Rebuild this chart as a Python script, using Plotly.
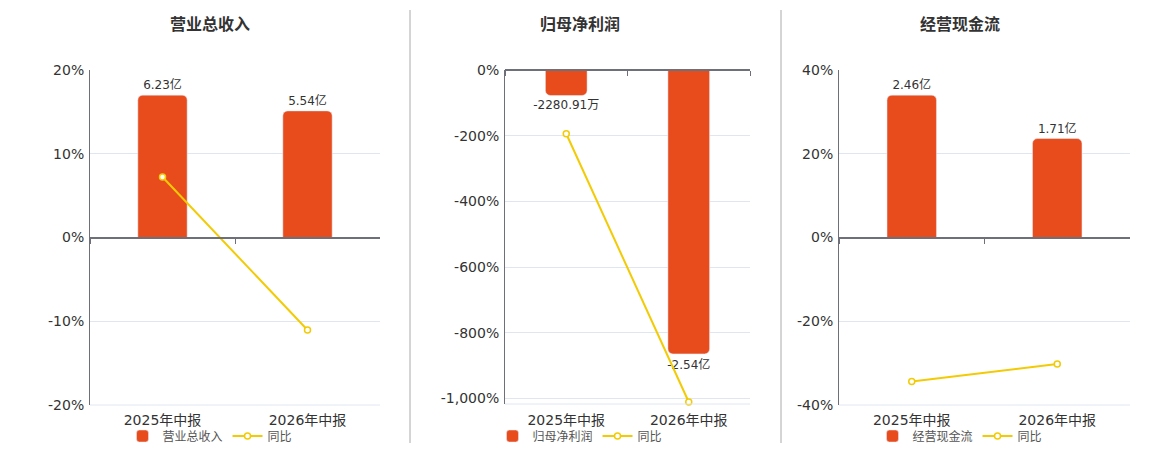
import plotly.graph_objects as go

# --- data ---
periods = ["2025年中报", "2026年中报"]

titles = ["营业总收入", "归母净利润", "经营现金流"]

# bar values (亿元) and their labels
bar_values = [
    [6.23, 5.54],
    [-0.228091, -2.54],
    [2.46, 1.71],
]
bar_labels = [
    ["6.23亿", "5.54亿"],
    ["-2280.91万", "-2.54亿"],
    ["2.46亿", "1.71亿"],
]

# 同比 (%)
yoy_values = [
    [7.22, -11.04],
    [-194.0, -1011.0],
    [-34.4, -30.2],
]

# percent axis ranges and tick labels
yoy_ranges = [[-20, 20], [-1017, 0], [-40, 40]]
yoy_tickvals = [
    [-20, -10, 0, 10, 20],
    [-1000, -800, -600, -400, -200, 0],
    [-40, -20, 0, 20, 40],
]
yoy_ticktext = [
    ["-20%", "-10%", "0%", "10%", "20%"],
    ["-1,000%", "-800%", "-600%", "-400%", "-200%", "0%"],
    ["-40%", "-20%", "0%", "20%", "40%"],
]

# --- style ---
W, H = 1160, 450
PAGE = 8  # the page's own body margin
BAR_COLOR = "#E84C1D"
LINE_COLOR = "#F2CB05"
AXIS_COLOR = "#6E7079"
GRID_COLOR = "#E0E6F1"
TEXT_COLOR = "#333333"
FONT = "DejaVu Sans, Noto Sans CJK SC, sans-serif"
TITLE_FONT = "Noto Sans CJK SC, sans-serif"

# plot areas in screen pixels (left, right, top, bottom)
areas = [(90, 380, 70, 405), (505, 750, 70, 404), (839, 1130, 70, 405)]
centers = [210, 580, 960]
separators = [410, 781]


def px_x(v):
    return (v - PAGE) / W


def px_y(v):
    return 1 - (v - PAGE) / H


fig = go.Figure()
layout = {}

for i in range(3):
    n = i + 1
    xa = "x" if n == 1 else f"x{n}"
    ya_bar = "y" if n == 1 else f"y{2 * n - 1}"
    ya_line = f"y{2 * n}"
    xkey = "xaxis" if n == 1 else f"xaxis{n}"
    ybkey = "yaxis" if n == 1 else f"yaxis{2 * n - 1}"
    ylkey = f"yaxis{2 * n}"
    lkey = "legend" if n == 1 else f"legend{n}"

    left, right, top, bottom = areas[i]
    xdom = [px_x(left), px_x(right)]
    ydom = [px_y(bottom), px_y(top)]

    lo, hi = yoy_ranges[i]
    frac0 = (0 - lo) / (hi - lo)
    zero_pos = ydom[0] + frac0 * (ydom[1] - ydom[0])
    zero_px = bottom - frac0 * (bottom - top)

    # bar axis scaled so that the largest bar fills 85% of its side
    vmax = max(abs(v) for v in bar_values[i]) / 0.85
    if lo < 0 < hi:
        bar_range = [-vmax, vmax]
    else:
        bar_range = [-vmax, 0]

    fig.add_trace(go.Bar(
        x=periods, y=bar_values[i],
        xaxis=xa, yaxis=ya_bar,
        name=titles[i],
        marker=dict(color=BAR_COLOR, cornerradius=5),
        width=0.34,
        text=bar_labels[i],
        textposition="outside",
        constraintext="none",
        textfont=dict(size=12, color=TEXT_COLOR, family=FONT),
        cliponaxis=False,
        hoverinfo="skip",
        legend=lkey,
    ))
    fig.add_trace(go.Scatter(
        x=periods, y=yoy_values[i],
        xaxis=xa, yaxis=ya_line,
        name="同比",
        mode="lines+markers",
        line=dict(color=LINE_COLOR, width=2),
        marker=dict(symbol="circle", size=6, color="white",
                    line=dict(color=LINE_COLOR, width=1.5)),
        cliponaxis=False,
        hoverinfo="skip",
        legend=lkey,
    ))

    layout[xkey] = dict(
        domain=xdom, anchor="free", position=zero_pos,
        type="category", range=[-0.5, 1.5],
        showline=True, linecolor=AXIS_COLOR, linewidth=2,
        ticks="outside", tickson="boundaries", ticklen=5,
        tickcolor=AXIS_COLOR, tickwidth=1,
        showgrid=False,
        ticklabelstandoff=int(bottom - zero_px) + 3,
        tickfont=dict(size=14, color=TEXT_COLOR, family=FONT),
    )
    layout[ybkey] = dict(
        domain=ydom, anchor=xa, range=bar_range,
        visible=False, showgrid=False, zeroline=False,
    )
    layout[ylkey] = dict(
        domain=ydom, anchor=xa, overlaying=ya_bar, side="left",
        range=yoy_ranges[i],
        tickvals=yoy_tickvals[i], ticktext=yoy_ticktext[i],
        showline=True, linecolor=AXIS_COLOR, linewidth=1,
        showgrid=True, gridcolor=GRID_COLOR, gridwidth=1,
        zeroline=False, ticks="", ticklabelstandoff=2,
        tickfont=dict(size=14, color=TEXT_COLOR, family=FONT),
    )
    layout[lkey] = dict(
        orientation="h", x=px_x(centers[i]), xanchor="center",
        y=px_y(436), yanchor="middle",
        font=dict(size=12, color="#555555", family=FONT),
        bgcolor="rgba(0,0,0,0)", itemwidth=30,
        traceorder="normal",
    )

    # faint bottom border of the plot area
    fig.add_shape(type="line", xref=f"{xa} domain", yref=f"{ya_line} domain",
                  x0=0, x1=1, y0=0, y1=0,
                  line=dict(color=GRID_COLOR, width=1))

    fig.add_annotation(
        text=f"<b>{titles[i]}</b>", x=px_x(centers[i]), y=px_y(23),
        xref="paper", yref="paper", xanchor="center", yanchor="middle",
        showarrow=False, font=dict(size=16, color=TEXT_COLOR, family=TITLE_FONT),
    )

for sx in separators:
    fig.add_shape(type="line", xref="paper", yref="paper",
                  x0=px_x(sx), x1=px_x(sx), y0=px_y(443), y1=px_y(10),
                  line=dict(color="#AAAAAA", width=1))

fig.update_layout(
    width=W, height=H,
    margin=dict(l=0, r=0, t=0, b=0, autoexpand=False),
    paper_bgcolor="white", plot_bgcolor="white",
    font=dict(family=FONT, color=TEXT_COLOR),
    **layout,
)

fig.write_html("out.html", config={"displayModeBar": False})
